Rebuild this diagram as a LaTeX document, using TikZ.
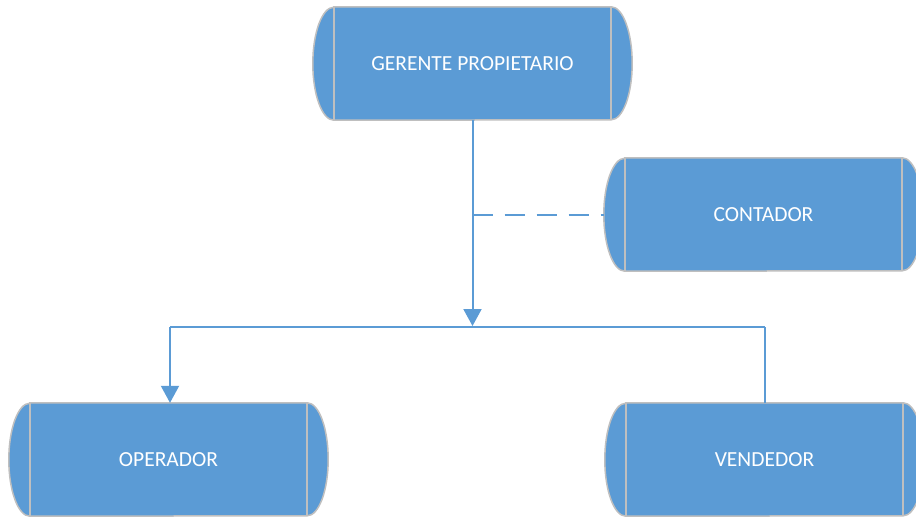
\documentclass[tikz,border=0pt]{standalone}
\usepackage{fontspec}
\setmainfont{Carlito}
\usetikzlibrary{arrows.meta,backgrounds}
\definecolor{boxblue}{HTML}{5B9BD5}
\definecolor{boxedge}{HTML}{BFBFBF}
\definecolor{linkblue}{HTML}{5B9BD5}
\begin{document}
\begin{tikzpicture}[x=1pt,y=-1pt,
  capsule/.style={minimum width=319pt, minimum height=113pt, inner sep=0pt,
    text=white, font=\fontsize{21.5}{25}\selectfont},
  capfill/.style={fill=boxblue, draw=boxedge, line width=1.5pt},
  capline/.style={draw=boxedge, line width=1.5pt},
  link/.style={draw=linkblue, line width=2pt},
  linkarrow/.style={link, -{Triangle[width=18pt,length=17pt]}},
  linkdash/.style={link, dash pattern=on 20pt off 12pt}]
\useasboundingbox (0,0) rectangle (916,517);
\clip (0,0) rectangle (916,517);

\node[capsule] (g) at (472.5,63.5) {\raisebox{-1pt}{GERENTE PROPIETARIO}};
\node[capsule] (c) at (763.5,214.5) {\raisebox{-1pt}{CONTADOR}};
\node[capsule] (o) at (168.5,459.5) {\raisebox{-1.5pt}{OPERADOR}};
\node[capsule] (v) at (764.5,459.5) {\raisebox{-1.5pt}{VENDEDOR}};

\begin{scope}[on background layer]
\foreach \n in {g,c,o,v}{
  \path[capfill] ([xshift=21pt]\n.north west) -- ([xshift=-21pt]\n.north east)
    arc[start angle=90, end angle=-90, x radius=21pt, y radius=56.5pt]
    -- ([xshift=21pt]\n.south west)
    arc[start angle=270, end angle=90, x radius=21pt, y radius=56.5pt] -- cycle;
  \draw[capline] ([xshift=21pt]\n.north west) -- ([xshift=21pt]\n.south west);
  \draw[capline] ([xshift=-21pt]\n.north east) -- ([xshift=-21pt]\n.south east);
}
\end{scope}

\coordinate (j) at (472.5,326);
\coordinate (bl) at (170,327);
\coordinate (br) at (765,327);
\coordinate (d) at (472.5,215);

\draw[linkarrow] (g.south) -- (j);
\draw[link] (bl) -- (br);
\draw[linkarrow] (bl) -- (bl |- o.north);
\draw[link] (br |- v.north) -- (br);
\draw[linkdash] (d) -- (d -| c.west);
\end{tikzpicture}
\end{document}
